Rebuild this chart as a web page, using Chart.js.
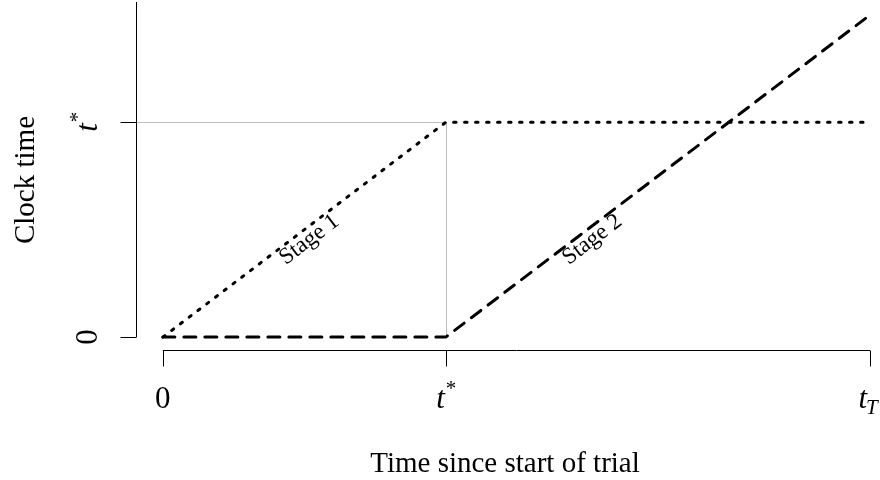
<!DOCTYPE html>
<html>
<head>
<meta charset="utf-8">
<script src="https://cdn.jsdelivr.net/npm/chart.js@4.4.0/dist/chart.umd.min.js"></script>
<style>
  html, body { margin: 0; padding: 0; background: #fff; }
  #wrap { width: 880px; height: 480px; }
</style>
</head>
<body>
<div id="wrap"><canvas id="chart"></canvas></div>
<script>
const T_STAR = 0.4;
const T_END = 1;

// time since start of trial, and clock time for each stage
const trialTime = [0, T_STAR, T_END];
const stage1Clock = [0, T_STAR, T_STAR];
const stage2Clock = [0, 0, T_END - T_STAR];

const xTickVals = [0, T_STAR, T_END];
const xTickLabels = [{ text: '0' }, { text: 't', sup: '*' }, { text: 't', sub: 'T' }];
const yTickVals = [0, T_STAR];
const yTickLabels = [{ text: '0' }, { text: 't', sup: '*' }];

const stageNames = ['Stage 1', 'Stage 2'];
const stageLabelX = [0.2, 0.6];
const stageLabelY = [0.2, 0.2];

const SERIF = '"Liberation Serif", "DejaVu Serif", serif';
const TICK_SIZE = 31;
const TITLE_SIZE = 29;

const toPoints = (xs, ys) => xs.map((x, i) => ({ x: x, y: ys[i] }));

// draws "0", "t*" or "t_T" centred on x, baseline on y
const drawMath = (ctx, lab, x, y, size) => {
    const plain = !lab.sup && !lab.sub;
    const baseFont = (plain ? '' : 'italic ') + size + 'px ' + SERIF;
    const smallSize = Math.round(size * 0.68);
    ctx.font = baseFont;
    const wBase = ctx.measureText(lab.text).width;
    let wExtra = 0;
    if (lab.sup) {
        ctx.font = smallSize + 'px ' + SERIF;
        wExtra = ctx.measureText(lab.sup).width;
    } else if (lab.sub) {
        ctx.font = 'italic ' + smallSize + 'px ' + SERIF;
        wExtra = ctx.measureText(lab.sub).width + 3;
    }
    const left = x - (wBase + wExtra) / 2;
    ctx.textAlign = 'left';
    ctx.textBaseline = 'alphabetic';
    ctx.font = baseFont;
    ctx.fillText(lab.text, left, y);
    if (lab.sup) {
        ctx.font = smallSize + 'px ' + SERIF;
        ctx.fillText(lab.sup, left + wBase + 1, y - size * 0.42);
    } else if (lab.sub) {
        ctx.font = 'italic ' + smallSize + 'px ' + SERIF;
        ctx.fillText(lab.sub, left + wBase - 1, y + size * 0.2);
    }
};

const guideLines = {
    id: 'guideLines',
    beforeDatasetsDraw(chart) {
        const { ctx, chartArea, scales: { x, y } } = chart;
        const px = x.getPixelForValue(T_STAR);
        const py = y.getPixelForValue(T_STAR);
        ctx.save();
        ctx.strokeStyle = '#bebebe';
        ctx.lineWidth = 1;
        ctx.beginPath();
        ctx.moveTo(chartArea.left, Math.round(py) + 0.5);
        ctx.lineTo(px, Math.round(py) + 0.5);
        ctx.moveTo(Math.round(px) + 0.5, py);
        ctx.lineTo(Math.round(px) + 0.5, y.getPixelForValue(0));
        ctx.stroke();
        ctx.restore();
    }
};

const baseAxes = {
    id: 'baseAxes',
    afterDraw(chart) {
        const { ctx, chartArea, scales: { x, y } } = chart;
        const tick = 16;
        ctx.save();
        ctx.strokeStyle = '#000';
        ctx.fillStyle = '#000';
        ctx.lineWidth = 1;

        // x axis
        const ay = Math.round(chartArea.bottom) + 0.5;
        ctx.beginPath();
        ctx.moveTo(x.getPixelForValue(xTickVals[0]), ay);
        ctx.lineTo(x.getPixelForValue(xTickVals[xTickVals.length - 1]), ay);
        xTickVals.forEach(v => {
            const p = Math.round(x.getPixelForValue(v)) + 0.5;
            ctx.moveTo(p, ay);
            ctx.lineTo(p, ay + tick);
        });
        ctx.stroke();
        xTickVals.forEach((v, i) => {
            drawMath(ctx, xTickLabels[i], x.getPixelForValue(v), 408, TICK_SIZE);
        });

        // y axis
        const ax = Math.round(chartArea.left) + 0.5;
        ctx.beginPath();
        ctx.moveTo(ax, y.getPixelForValue(0));
        ctx.lineTo(ax, chartArea.top);
        yTickVals.forEach(v => {
            const p = Math.round(y.getPixelForValue(v)) + 0.5;
            ctx.moveTo(ax, p);
            ctx.lineTo(ax - tick, p);
        });
        ctx.stroke();
        yTickVals.forEach((v, i) => {
            ctx.save();
            ctx.translate(97, y.getPixelForValue(v));
            ctx.rotate(-Math.PI / 2);
            drawMath(ctx, yTickLabels[i], 0, 0, TICK_SIZE);
            ctx.restore();
        });

        // axis titles
        ctx.font = TITLE_SIZE + 'px ' + SERIF;
        ctx.textAlign = 'center';
        ctx.textBaseline = 'alphabetic';
        ctx.fillText('Time since start of trial', (chartArea.left + chartArea.right) / 2 - 3, 472);
        ctx.save();
        ctx.translate(34, (chartArea.top + chartArea.bottom) / 2 + 4);
        ctx.rotate(-Math.PI / 2);
        ctx.fillText('Clock time', 0, 0);
        ctx.restore();

        // stage labels along each rising segment
        const angle = Math.atan2(
            y.getPixelForValue(T_STAR) - y.getPixelForValue(0),
            x.getPixelForValue(T_STAR) - x.getPixelForValue(0)
        );
        ctx.font = '23px ' + SERIF;
        ctx.textBaseline = 'middle';
        stageNames.forEach((name, i) => {
            ctx.save();
            ctx.translate(x.getPixelForValue(stageLabelX[i]), y.getPixelForValue(stageLabelY[i]));
            ctx.rotate(angle);
            ctx.fillText(name, -2, 11);
            ctx.restore();
        });
        ctx.restore();
    }
};

new Chart(document.getElementById('chart'), {
    type: 'line',
    data: {
        datasets: [{
            label: 'Stage 1 clock',
            data: toPoints(trialTime, stage1Clock),
            borderColor: '#000',
            borderWidth: 3,
            borderDash: [2.5, 8.5],
            borderCapStyle: 'round',
            pointRadius: 0,
            fill: false
        }, {
            label: 'Stage 2 clock',
            data: toPoints(trialTime, stage2Clock),
            borderColor: '#000',
            borderWidth: 3,
            borderDash: [12, 9],
            borderCapStyle: 'round',
            pointRadius: 0,
            fill: false
        }]
    },
    options: {
        responsive: true,
        maintainAspectRatio: false,
        animation: false,
        layout: { padding: { left: 136, right: 0, top: 2, bottom: 130 } },
        scales: {
            x: { type: 'linear', min: -0.038, max: 1.014, display: false },
            y: { type: 'linear', min: -0.024, max: 0.624, display: false }
        },
        plugins: {
            legend: { display: false },
            tooltip: { enabled: false }
        }
    },
    plugins: [guideLines, baseAxes]
});
</script>
</body>
</html>
